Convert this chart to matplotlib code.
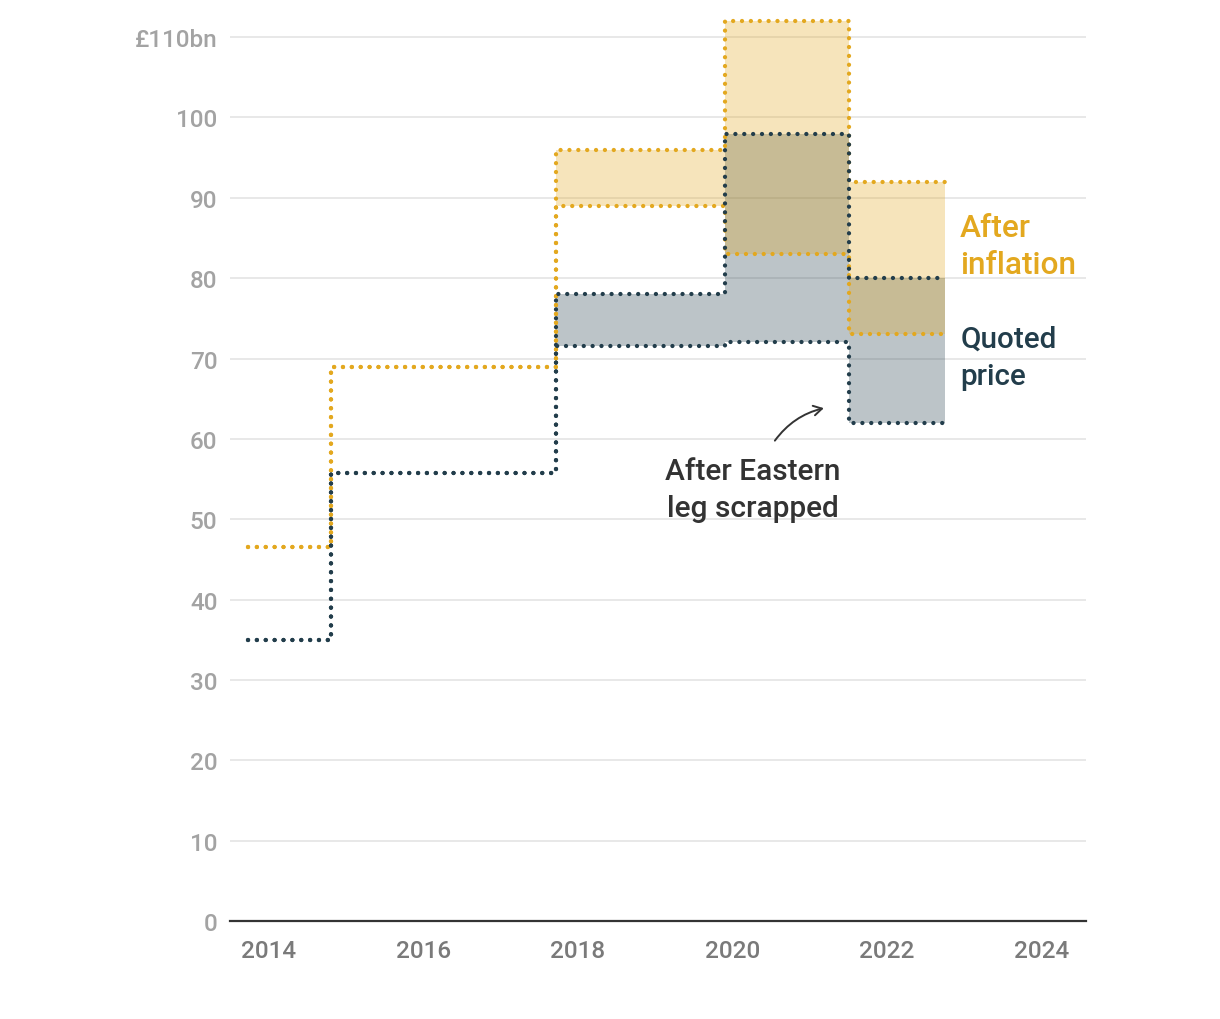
import matplotlib
matplotlib.use("Agg")
import matplotlib.pyplot as plt
import numpy as np

# ---- data ----
edges = [2013.73, 2014.80, 2017.72, 2019.91, 2021.51, 2022.76]
quoted_low = [35.0, 55.7, 71.6, 72.0, 62.0]
quoted_high = [35.0, 55.7, 78.0, 98.0, 80.0]
infl_low = [46.5, 69.0, 89.0, 83.0, 73.0]
infl_high = [46.5, 69.0, 96.0, 112.0, 92.0]
yticks = [0, 10, 20, 30, 40, 50, 60, 70, 80, 90, 100, 110]
ytick_labels = ["0", "10", "20", "30", "40", "50", "60", "70", "80", "90", "100", "£110bn"]
xticks = [2014, 2016, 2018, 2020, 2022, 2024]

YEL = "#E3A81F"
DARK = "#223D4B"

plt.rcParams['font.family'] = ['Roboto', 'DejaVu Sans']

fig = plt.figure(figsize=(12.2, 10.2), dpi=100)
ax = fig.add_axes([230/1220, 98/1020, 856/1220, 916/1020])
ax.set_xlim(2013.495, 2024.58)
ax.set_ylim(0, 114)

def ext(v):
    return list(v) + [v[-1]]

ls = (0, (0.01, 2.05))
LW = 3.1
ax.fill_between(edges, ext(quoted_low), ext(quoted_high), step='post',
                color=DARK, alpha=0.30, linewidth=0, zorder=2)
ax.fill_between(edges, ext(infl_low), ext(infl_high), step='post',
                color=YEL, alpha=0.30, linewidth=0, zorder=3)
for series in (infl_low, infl_high):
    ax.step(edges, ext(series), where='post', color=YEL, lw=LW,
            linestyle=ls, dash_capstyle='round', zorder=4)
for series in (quoted_low, quoted_high):
    ax.step(edges, ext(series), where='post', color=DARK, lw=LW,
            linestyle=ls, dash_capstyle='round', zorder=5)

ax.set_yticks(yticks)
ax.set_yticklabels(ytick_labels)
ax.set_xticks(xticks)
ax.set_xticklabels([str(x) for x in xticks])
ax.tick_params(axis='y', length=0, pad=9, labelsize=17.5, labelcolor="#A3A3A3")
ax.tick_params(axis='x', length=0, pad=13, labelsize=17.5, labelcolor="#7A7A7A")
for lab in ax.get_xticklabels() + ax.get_yticklabels():
    lab.set_fontweight('medium')
ax.grid(axis='y', color="#E4E4E4", lw=1.2, zorder=0)
ax.set_axisbelow(True)
for s in ('top', 'right', 'left'):
    ax.spines[s].set_visible(False)
ax.spines['bottom'].set_color("#333333")
ax.spines['bottom'].set_linewidth(1.6)

# labels
ax.text(2022.95, 84.0, "After\ninflation", color=YEL, fontsize=22.8, fontweight='medium',
        ha='left', va='center', linespacing=1.38)
ax.text(2022.95, 70.1, "Quoted\nprice", color=DARK, fontsize=21.3, fontweight='medium',
        ha='left', va='center', linespacing=1.42)
ax.text(2020.27, 53.7, "After Eastern\nleg scrapped", color="#333333", fontsize=21.5,
        fontweight='medium', ha='center', va='center', linespacing=1.38)
ax.annotate("", xy=(2021.22, 63.9), xytext=(2020.53, 59.5),
            arrowprops=dict(arrowstyle="->,head_length=0.6,head_width=0.35", color="#333333",
                            lw=1.4, connectionstyle="arc3,rad=-0.2"))

fig.savefig("out.png", dpi=100)
